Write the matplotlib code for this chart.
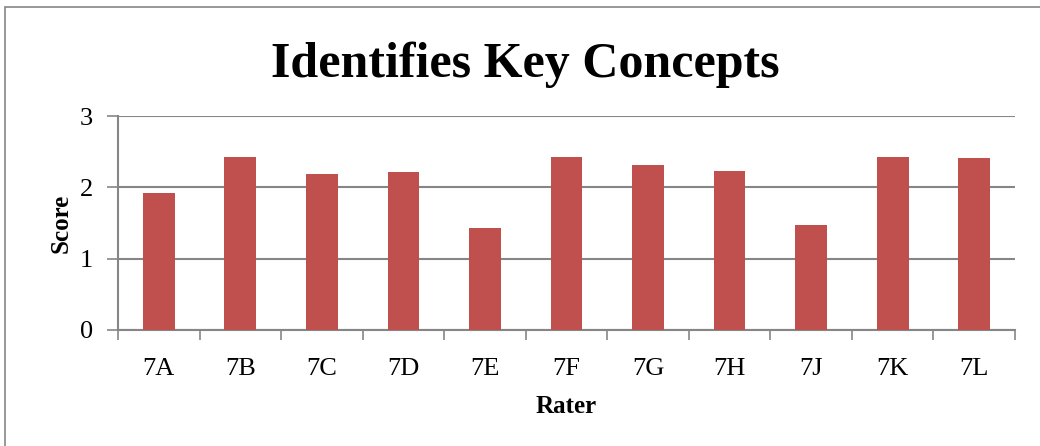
import matplotlib.pyplot as plt
from matplotlib.patches import Rectangle
import numpy as np

raters = ["7A", "7B", "7C", "7D", "7E", "7F", "7G", "7H", "7J", "7K", "7L"]
scores = [1.92, 2.43, 2.18, 2.21, 1.43, 2.43, 2.32, 2.23, 1.47, 2.43, 2.41]

plt.rcParams['font.family'] = ['Liberation Serif', 'DejaVu Serif']

fig = plt.figure(figsize=(10.4, 4.46), dpi=100)
ax = fig.add_axes([118 / 1040, (446 - 330) / 446, 897 / 1040, 214 / 446])

# outer chart frame
fig.patches.append(Rectangle((5 / 1040, -0.1), 1.2, 0.1 + 439 / 446, transform=fig.transFigure,
                             fill=False, edgecolor='#868686', linewidth=1.2))

x = np.arange(len(raters))
ax.bar(x, scores, width=0.39, color='#C0504D', zorder=3)

ax.set_xlim(-0.5, len(raters) - 0.5)
ax.set_ylim(0, 3)
ax.set_yticks([0, 1, 2, 3])
ax.yaxis.grid(True, color='#868686', linewidth=1.5, zorder=0)

ax.set_xticks(x)
ax.set_xticklabels(raters)
ax.set_xticks(np.arange(-0.5, len(raters)), minor=True)
ax.tick_params(axis='x', which='major', length=0, pad=20, labelsize=19)
ax.tick_params(axis='x', which='minor', length=7, width=1.2, color='#868686', direction='out')
ax.tick_params(axis='y', length=8, width=1.2, color='#868686', pad=10, labelsize=19)

for s in ['top', 'right']:
    ax.spines[s].set_visible(False)
for s in ['left', 'bottom']:
    ax.spines[s].set_color('#868686')
    ax.spines[s].set_linewidth(1.5)

ax.set_xlabel('Rater', fontsize=18, fontweight='bold', labelpad=11)
ax.set_ylabel('Score', fontsize=18, fontweight='bold', labelpad=5)
fig.text(0.505, 0.855, 'Identifies Key Concepts', ha='center', va='center', fontsize=36, fontweight='bold')

fig.savefig('out.png', dpi=100)
